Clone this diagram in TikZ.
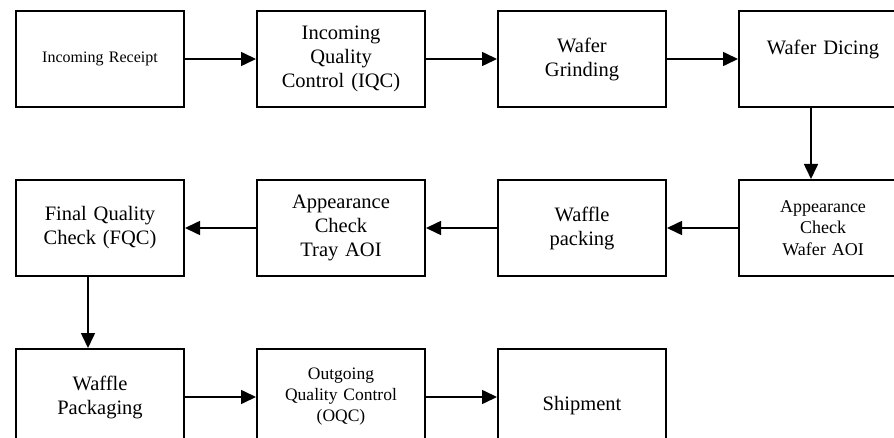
\documentclass[tikz,border=0pt]{standalone}
\usepackage{fontspec}
\setmainfont{Liberation Serif}
\usepackage{tikz}
\usetikzlibrary{arrows.meta, positioning}

\begin{document}
\begin{tikzpicture}[>={Triangle[length=15pt,width=14pt]}, node distance=71pt,
    proc/.style={draw, line width=2pt, minimum width=168pt, minimum height=96pt,
        text width=160pt, align=center, inner sep=0pt,
        font=\fontsize{20.5}{24}\selectfont},
    flow/.style={->, line width=1.6pt}]
    % Khung hình
    \useasboundingbox (0,0) rectangle (894pt,-438pt);

    % Hàng 1
    \node[proc, font=\fontsize{16}{19}\selectfont] (recv) at (100pt,-59pt) {Incoming Receipt};
    \node[proc, right=of recv] (iqc) {Incoming\\Quality\\Control (IQC)};
    \node[proc, right=of iqc] (grind) {Wafer\\Grinding};
    \node[proc, right=of grind] (dice) {Wafer Dicing\\\mbox{}};

    % Hàng 2
    \node[proc, below=of dice, font=\fontsize{18}{21.3}\selectfont] (aoiw) {Appearance\\Check\\Wafer AOI};
    \node[proc, left=of aoiw] (pack) {Waffle\\packing};
    \node[proc, left=of pack] (aoit) {Appearance\\Check\\Tray AOI};
    \node[proc, left=of aoit] (fqc) {Final Quality\\Check (FQC)};

    % Hàng 3
    \node[proc, below=of fqc] (wpkg) {Waffle\\Packaging};
    \node[proc, right=of wpkg, font=\fontsize{17.5}{21}\selectfont] (oqc) {Outgoing\\Quality Control\\(OQC)};
    \node[proc, right=of oqc] (ship) {\raisebox{-13pt}[0pt][0pt]{Shipment}};

    % Mũi tên
    \draw[flow] (recv) -- (iqc);
    \draw[flow] (iqc) -- (grind);
    \draw[flow] (grind) -- (dice);
    \draw[flow] ([xshift=-12pt]dice.south) -- ([xshift=-12pt]aoiw.north);
    \draw[flow] (aoiw) -- (pack);
    \draw[flow] (pack) -- (aoit);
    \draw[flow] (aoit) -- (fqc);
    \draw[flow] ([xshift=-12pt]fqc.south) -- ([xshift=-12pt]wpkg.north);
    \draw[flow] (wpkg) -- (oqc);
    \draw[flow] (oqc) -- (ship);
\end{tikzpicture}
\end{document}
